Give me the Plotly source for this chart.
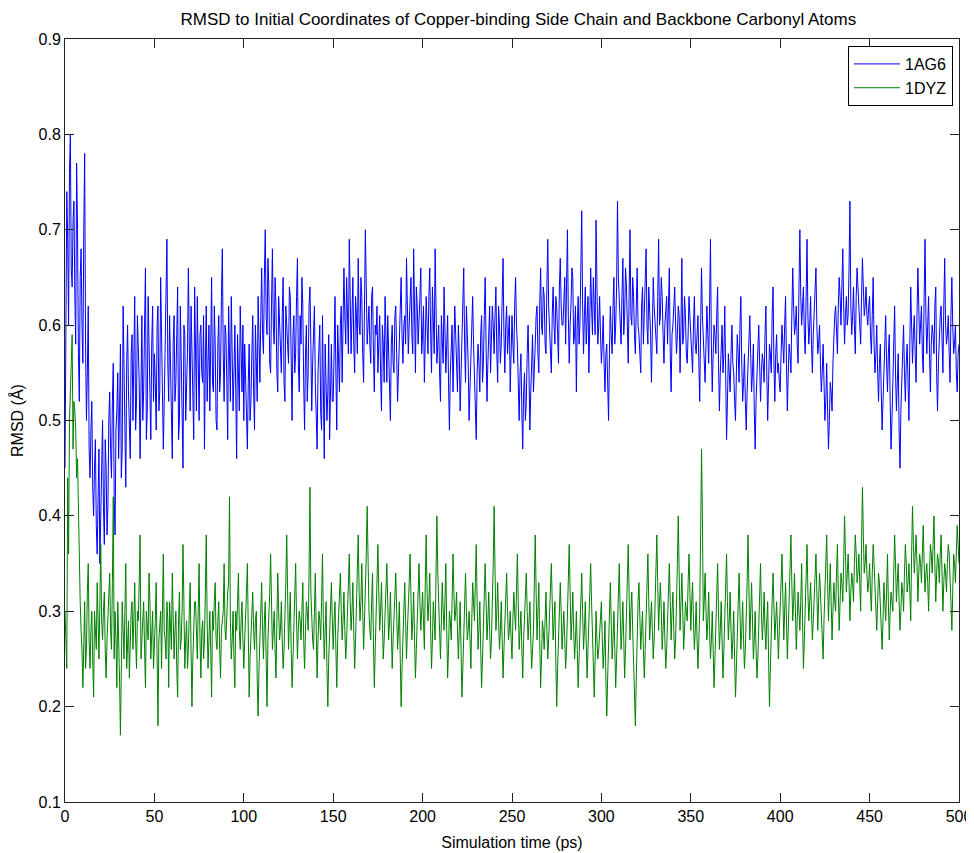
import numpy as np
import plotly.graph_objects as go

# RMSD (Angstrom).
# "main" blocks are at whole picoseconds (t = 0, 1, 2, ...),
# "half" blocks are at the half picoseconds in between (t = 0.5, 1.5, ...).
ag6_000 = [0.45,0.74,0.60,0.80,0.64,0.73,0.58,0.70,0.52,0.68,
           0.56,0.78,0.50,0.62,0.44,0.52,0.40,0.48,0.36,0.47,
           0.39,0.50,0.37,0.45,0.41,0.53,0.44,0.56,0.38,0.51,
           0.46,0.58,0.47,0.55,0.43,0.60,0.49,0.57,0.50,0.63,
           0.52,0.58,0.46,0.61,0.53,0.66,0.51,0.59,0.48,0.62]
ag6_050 = [0.57,0.49,0.62,0.53,0.60,0.47,0.58,0.69,0.52,0.56,
           0.46,0.61,0.54,0.64,0.50,0.57,0.45,0.59,0.53,0.66,
           0.51,0.58,0.48,0.55,0.63,0.50,0.60,0.54,0.47,0.62,
           0.56,0.51,0.65,0.53,0.58,0.49,0.61,0.55,0.68,0.52,
           0.59,0.48,0.57,0.63,0.51,0.60,0.46,0.56,0.62,0.53]
ag6_100 = [0.50,0.55,0.47,0.58,0.52,0.61,0.49,0.56,0.63,0.54,
           0.66,0.57,0.70,0.59,0.64,0.55,0.68,0.58,0.62,0.53,
           0.60,0.55,0.65,0.52,0.59,0.56,0.63,0.50,0.61,0.57,
           0.67,0.53,0.58,0.62,0.49,0.60,0.55,0.64,0.51,0.59,
           0.54,0.47,0.57,0.51,0.61,0.46,0.55,0.53,0.48,0.58]
ag6_150 = [0.52,0.63,0.49,0.57,0.60,0.54,0.66,0.58,0.62,0.69,
           0.57,0.65,0.55,0.61,0.67,0.59,0.63,0.54,0.70,0.58,
           0.62,0.56,0.64,0.53,0.59,0.55,0.61,0.51,0.58,0.63,
           0.54,0.57,0.50,0.60,0.55,0.62,0.52,0.58,0.65,0.56,
           0.61,0.67,0.57,0.63,0.59,0.68,0.55,0.62,0.60,0.66]
ag6_200 = [0.59,0.54,0.63,0.57,0.66,0.55,0.61,0.68,0.56,0.60,
           0.52,0.58,0.64,0.55,0.61,0.49,0.57,0.53,0.62,0.56,
           0.60,0.51,0.58,0.66,0.54,0.59,0.50,0.57,0.63,0.55,
           0.48,0.58,0.53,0.61,0.56,0.65,0.52,0.59,0.55,0.62,
           0.57,0.64,0.54,0.60,0.58,0.67,0.55,0.62,0.59,0.53]
ag6_250 = [0.61,0.56,0.65,0.58,0.50,0.57,0.47,0.55,0.52,0.60,
           0.49,0.56,0.53,0.58,0.62,0.55,0.66,0.59,0.63,0.57,
           0.69,0.60,0.55,0.64,0.58,0.62,0.56,0.67,0.60,0.63,
           0.58,0.70,0.56,0.62,0.65,0.59,0.53,0.63,0.60,0.72,
           0.57,0.64,0.61,0.55,0.66,0.59,0.62,0.71,0.58,0.63]
ag6_300 = [0.56,0.61,0.53,0.58,0.50,0.62,0.57,0.65,0.60,0.73,
           0.62,0.58,0.67,0.61,0.64,0.56,0.70,0.60,0.63,0.57,
           0.66,0.59,0.55,0.64,0.61,0.68,0.58,0.62,0.54,0.65,
           0.60,0.57,0.69,0.61,0.63,0.56,0.62,0.58,0.66,0.53,
           0.60,0.64,0.57,0.62,0.55,0.67,0.59,0.61,0.56,0.63]
ag6_350 = [0.59,0.55,0.63,0.57,0.61,0.52,0.66,0.58,0.54,0.62,
           0.56,0.69,0.53,0.60,0.57,0.64,0.51,0.58,0.55,0.62,
           0.48,0.57,0.53,0.60,0.55,0.50,0.59,0.54,0.63,0.52,
           0.57,0.49,0.56,0.61,0.53,0.58,0.47,0.55,0.60,0.52,
           0.57,0.54,0.62,0.50,0.58,0.55,0.64,0.52,0.59,0.56]
ag6_400 = [0.53,0.60,0.56,0.63,0.51,0.58,0.55,0.66,0.59,0.62,
           0.56,0.70,0.60,0.64,0.57,0.69,0.58,0.63,0.55,0.61,
           0.66,0.57,0.60,0.53,0.58,0.50,0.56,0.47,0.54,0.51,
           0.59,0.62,0.57,0.65,0.60,0.68,0.58,0.63,0.61,0.73,
           0.59,0.64,0.57,0.66,0.62,0.58,0.67,0.61,0.64,0.60]
ag6_450 = [0.63,0.57,0.65,0.55,0.60,0.52,0.58,0.49,0.56,0.61,
           0.53,0.59,0.47,0.55,0.62,0.51,0.57,0.45,0.54,0.60,
           0.52,0.58,0.50,0.64,0.56,0.61,0.54,0.66,0.58,0.62,
           0.55,0.69,0.57,0.63,0.53,0.60,0.57,0.64,0.51,0.59,
           0.62,0.55,0.67,0.58,0.61,0.54,0.65,0.57,0.60,0.53,
           0.58]

ag6_half_000 = [0.62,0.69,0.76,0.66,0.71,0.63,0.77,0.57,0.65,0.60,
                0.70,0.58,0.55,0.47,0.49,0.43,0.45,0.39,0.42,0.35,
                0.44,0.41,0.48,0.38,0.50,0.47,0.52,0.42,0.49,0.55,
                0.51,0.44,0.62,0.48,0.56,0.53,0.46,0.59,0.55,0.49,
                0.61,0.54,0.57,0.50,0.60,0.48,0.63,0.55,0.58,0.52]
ag6_half_050 = [0.54,0.60,0.51,0.65,0.55,0.52,0.63,0.56,0.61,0.50,
                0.58,0.52,0.59,0.48,0.62,0.54,0.60,0.50,0.57,0.55,
                0.62,0.53,0.64,0.51,0.57,0.59,0.55,0.61,0.56,0.52,
                0.60,0.57,0.54,0.62,0.50,0.58,0.53,0.63,0.57,0.60,
                0.54,0.62,0.52,0.58,0.55,0.53,0.59,0.51,0.57,0.60]
ag6_half_100 = [0.58,0.52,0.54,0.50,0.57,0.53,0.60,0.52,0.58,0.61,
                0.59,0.65,0.61,0.67,0.56,0.62,0.60,0.65,0.55,0.63,
                0.57,0.61,0.54,0.62,0.58,0.64,0.53,0.59,0.55,0.63,
                0.56,0.61,0.65,0.54,0.57,0.52,0.62,0.58,0.56,0.62,
                0.50,0.55,0.60,0.49,0.53,0.58,0.50,0.59,0.55,0.52]
ag6_half_150 = [0.57,0.55,0.60,0.53,0.62,0.59,0.61,0.65,0.57,0.63,
                0.61,0.58,0.63,0.57,0.60,0.65,0.57,0.62,0.64,0.60,
                0.58,0.63,0.57,0.60,0.62,0.58,0.55,0.60,0.54,0.59,
                0.61,0.53,0.58,0.56,0.61,0.57,0.55,0.62,0.59,0.60,
                0.58,0.62,0.60,0.65,0.57,0.61,0.64,0.58,0.63,0.57]
ag6_half_200 = [0.62,0.58,0.60,0.63,0.59,0.64,0.57,0.62,0.58,0.55,
                0.61,0.56,0.59,0.58,0.54,0.55,0.60,0.58,0.59,0.53,
                0.57,0.55,0.61,0.58,0.62,0.56,0.54,0.60,0.58,0.51,
                0.55,0.56,0.59,0.54,0.61,0.58,0.56,0.62,0.58,0.60,
                0.61,0.57,0.62,0.56,0.63,0.59,0.60,0.57,0.61,0.58]
ag6_half_250 = [0.58,0.62,0.60,0.54,0.55,0.51,0.53,0.50,0.57,0.55,
                0.53,0.59,0.55,0.61,0.57,0.62,0.60,0.64,0.58,0.64,
                0.62,0.58,0.61,0.60,0.63,0.59,0.64,0.62,0.60,0.65,
                0.63,0.61,0.60,0.66,0.58,0.62,0.60,0.58,0.66,0.62,
                0.61,0.58,0.63,0.60,0.62,0.65,0.59,0.62,0.60,0.59]
ag6_half_300 = [0.58,0.56,0.57,0.54,0.57,0.59,0.62,0.58,0.64,0.65,
                0.60,0.63,0.59,0.66,0.60,0.63,0.61,0.65,0.59,0.62,
                0.60,0.57,0.62,0.58,0.63,0.60,0.64,0.59,0.61,0.62,
                0.58,0.63,0.60,0.65,0.59,0.60,0.63,0.61,0.57,0.59,
                0.62,0.60,0.59,0.61,0.60,0.58,0.63,0.57,0.59,0.61]
ag6_half_350 = [0.57,0.60,0.58,0.59,0.56,0.60,0.61,0.55,0.58,0.59,
                0.62,0.58,0.57,0.59,0.61,0.56,0.55,0.60,0.57,0.54,
                0.52,0.55,0.57,0.56,0.52,0.55,0.57,0.60,0.56,0.54,
                0.52,0.53,0.59,0.57,0.55,0.51,0.52,0.58,0.56,0.55,
                0.56,0.59,0.55,0.54,0.57,0.61,0.56,0.57,0.55,0.54]
ag6_half_400 = [0.57,0.58,0.60,0.56,0.55,0.57,0.61,0.62,0.60,0.58,
                0.64,0.63,0.62,0.59,0.63,0.61,0.60,0.58,0.59,0.64,
                0.60,0.58,0.56,0.55,0.54,0.52,0.51,0.50,0.53,0.56,
                0.61,0.59,0.62,0.63,0.64,0.62,0.61,0.60,0.66,0.62,
                0.61,0.60,0.63,0.64,0.59,0.63,0.64,0.62,0.61,0.62]
ag6_half_450 = [0.59,0.61,0.58,0.57,0.55,0.56,0.53,0.52,0.59,0.56,
                0.57,0.52,0.50,0.58,0.55,0.54,0.49,0.51,0.58,0.55,
                0.56,0.54,0.58,0.60,0.59,0.57,0.61,0.62,0.60,0.57,
                0.63,0.61,0.60,0.57,0.58,0.59,0.62,0.55,0.56,0.61,
                0.59,0.62,0.60,0.59,0.57,0.61,0.60,0.58,0.55,0.57]

dyz_000 = [0.30,0.24,0.36,0.55,0.59,0.52,0.49,0.46,0.38,0.28,
           0.22,0.31,0.26,0.35,0.24,0.30,0.21,0.28,0.33,0.25,
           0.37,0.27,0.32,0.23,0.29,0.34,0.26,0.42,0.30,0.22,
           0.28,0.17,0.31,0.25,0.35,0.27,0.23,0.30,0.26,0.33,
           0.24,0.29,0.38,0.27,0.31,0.22,0.28,0.34,0.25,0.30]
dyz_050 = [0.26,0.33,0.18,0.29,0.24,0.36,0.27,0.31,0.22,0.28,
           0.34,0.25,0.30,0.21,0.32,0.27,0.37,0.24,0.29,0.26,
           0.33,0.20,0.28,0.31,0.25,0.35,0.23,0.29,0.27,0.38,
           0.24,0.30,0.21,0.28,0.33,0.26,0.31,0.23,0.29,0.35,
           0.27,0.32,0.42,0.25,0.30,0.22,0.28,0.34,0.26,0.31]
dyz_100 = [0.24,0.29,0.35,0.21,0.28,0.32,0.26,0.30,0.19,0.27,
           0.33,0.25,0.31,0.20,0.29,0.36,0.26,0.30,0.23,0.34,
           0.27,0.31,0.24,0.29,0.38,0.26,0.32,0.22,0.28,0.35,
           0.25,0.30,0.27,0.33,0.24,0.31,0.28,0.43,0.29,0.26,
           0.34,0.23,0.30,0.27,0.36,0.25,0.31,0.20,0.28,0.33]
dyz_150 = [0.26,0.31,0.22,0.29,0.34,0.27,0.32,0.25,0.30,0.36,
           0.28,0.33,0.24,0.31,0.38,0.29,0.35,0.26,0.32,0.41,
           0.30,0.27,0.34,0.22,0.31,0.37,0.28,0.33,0.25,0.30,
           0.35,0.27,0.32,0.24,0.29,0.34,0.26,0.31,0.20,0.28,
           0.33,0.25,0.30,0.36,0.27,0.32,0.23,0.29,0.35,0.28]
dyz_200 = [0.32,0.26,0.38,0.29,0.34,0.24,0.31,0.27,0.40,0.30,
           0.25,0.33,0.28,0.35,0.23,0.30,0.27,0.36,0.29,0.32,
           0.25,0.31,0.21,0.28,0.34,0.27,0.30,0.24,0.33,0.29,
           0.37,0.26,0.31,0.22,0.28,0.35,0.27,0.32,0.25,0.30,
           0.41,0.28,0.33,0.26,0.31,0.23,0.29,0.34,0.27,0.30]
dyz_250 = [0.25,0.32,0.28,0.36,0.26,0.30,0.23,0.29,0.34,0.27,
           0.31,0.24,0.28,0.38,0.27,0.33,0.22,0.29,0.26,0.32,
           0.25,0.30,0.35,0.27,0.31,0.20,0.28,0.33,0.26,0.30,
           0.24,0.29,0.37,0.27,0.32,0.25,0.30,0.22,0.28,0.34,
           0.26,0.31,0.23,0.29,0.35,0.27,0.21,0.30,0.25,0.28]
dyz_300 = [0.31,0.24,0.29,0.19,0.27,0.33,0.25,0.30,0.22,0.28,
           0.35,0.26,0.31,0.23,0.29,0.37,0.27,0.32,0.24,0.18,
           0.28,0.33,0.26,0.30,0.23,0.29,0.36,0.27,0.31,0.25,
           0.30,0.38,0.28,0.33,0.26,0.31,0.24,0.29,0.35,0.27,
           0.32,0.25,0.30,0.40,0.28,0.34,0.26,0.31,0.29,0.36]
dyz_350 = [0.28,0.33,0.26,0.31,0.24,0.30,0.47,0.29,0.34,0.27,
           0.32,0.25,0.30,0.22,0.28,0.35,0.26,0.31,0.23,0.29,
           0.36,0.27,0.32,0.25,0.30,0.21,0.28,0.34,0.26,0.31,
           0.24,0.29,0.38,0.27,0.33,0.25,0.30,0.23,0.28,0.35,
           0.27,0.32,0.26,0.31,0.20,0.29,0.34,0.27,0.31,0.25]
dyz_400 = [0.30,0.36,0.27,0.33,0.25,0.31,0.38,0.29,0.34,0.26,
           0.32,0.28,0.35,0.24,0.30,0.37,0.29,0.33,0.27,0.31,
           0.36,0.28,0.34,0.30,0.25,0.32,0.38,0.29,0.35,0.27,
           0.33,0.30,0.37,0.28,0.34,0.31,0.40,0.32,0.36,0.29,
           0.34,0.31,0.38,0.33,0.36,0.30,0.43,0.34,0.37,0.32]
dyz_450 = [0.35,0.30,0.37,0.33,0.28,0.34,0.31,0.26,0.33,0.29,
           0.36,0.27,0.32,0.30,0.38,0.31,0.35,0.28,0.33,0.30,
           0.37,0.32,0.35,0.29,0.41,0.34,0.38,0.31,0.36,0.33,
           0.39,0.32,0.35,0.30,0.37,0.34,0.40,0.31,0.36,0.33,
           0.38,0.30,0.35,0.32,0.37,0.34,0.28,0.36,0.33,0.39,
           0.35]

dyz_half_000 = [0.27,0.44,0.50,0.56,0.47,0.51,0.44,0.40,0.31,0.26,
                0.29,0.24,0.32,0.27,0.28,0.25,0.30,0.26,0.29,0.31,
                0.29,0.30,0.26,0.27,0.31,0.28,0.33,0.25,0.27,0.31,
                0.23,0.26,0.28,0.30,0.24,0.29,0.27,0.31,0.29,0.27,
                0.30,0.33,0.25,0.29,0.26,0.30,0.27,0.31,0.28,0.24]
dyz_half_050 = [0.29,0.25,0.27,0.30,0.31,0.28,0.25,0.29,0.31,0.26,
                0.30,0.28,0.24,0.29,0.26,0.30,0.31,0.27,0.24,0.30,
                0.26,0.25,0.31,0.28,0.30,0.27,0.28,0.25,0.32,0.29,
                0.27,0.26,0.30,0.31,0.27,0.29,0.26,0.28,0.30,0.28,
                0.30,0.33,0.29,0.27,0.25,0.30,0.31,0.28,0.29,0.27]
dyz_half_100 = [0.27,0.32,0.26,0.25,0.31,0.28,0.29,0.23,0.24,0.30,
                0.28,0.29,0.25,0.27,0.32,0.30,0.28,0.26,0.29,0.30,
                0.28,0.27,0.26,0.33,0.31,0.29,0.26,0.25,0.31,0.29,
                0.28,0.29,0.30,0.27,0.28,0.30,0.34,0.32,0.27,0.30,
                0.28,0.27,0.29,0.31,0.29,0.28,0.24,0.25,0.31,0.29]
dyz_half_150 = [0.29,0.26,0.27,0.32,0.30,0.29,0.28,0.27,0.33,0.31,
                0.30,0.28,0.27,0.34,0.32,0.31,0.30,0.29,0.36,0.33,
                0.28,0.31,0.27,0.26,0.34,0.32,0.30,0.29,0.27,0.33,
                0.31,0.29,0.28,0.27,0.32,0.30,0.28,0.25,0.24,0.31,
                0.29,0.28,0.33,0.31,0.29,0.27,0.26,0.32,0.31,0.30]
dyz_half_200 = [0.29,0.33,0.32,0.31,0.28,0.27,0.29,0.34,0.34,0.27,
                0.29,0.30,0.31,0.28,0.26,0.29,0.31,0.32,0.30,0.28,
                0.28,0.26,0.24,0.31,0.30,0.28,0.27,0.29,0.31,0.33,
                0.31,0.28,0.26,0.25,0.32,0.31,0.29,0.28,0.27,0.35,
                0.33,0.30,0.29,0.28,0.27,0.26,0.31,0.30,0.28,0.27]
dyz_half_250 = [0.29,0.30,0.32,0.31,0.28,0.26,0.27,0.31,0.30,0.29,
                0.27,0.26,0.33,0.32,0.30,0.27,0.25,0.28,0.29,0.28,
                0.27,0.32,0.31,0.29,0.25,0.24,0.31,0.30,0.28,0.27,
                0.26,0.33,0.32,0.29,0.28,0.27,0.26,0.25,0.31,0.30,
                0.28,0.27,0.26,0.32,0.31,0.24,0.25,0.27,0.26,0.30]
dyz_half_300 = [0.27,0.26,0.23,0.23,0.30,0.29,0.27,0.26,0.25,0.31,
                0.30,0.28,0.27,0.26,0.33,0.32,0.30,0.28,0.21,0.23,
                0.31,0.30,0.28,0.26,0.26,0.32,0.31,0.29,0.28,0.27,
                0.34,0.33,0.31,0.30,0.28,0.27,0.26,0.32,0.31,0.30,
                0.28,0.27,0.35,0.34,0.31,0.30,0.28,0.30,0.33,0.32]
dyz_half_350 = [0.31,0.29,0.28,0.27,0.27,0.38,0.40,0.31,0.30,0.29,
                0.28,0.27,0.26,0.25,0.31,0.30,0.28,0.27,0.26,0.32,
                0.31,0.29,0.28,0.27,0.25,0.24,0.31,0.30,0.28,0.27,
                0.26,0.33,0.32,0.30,0.29,0.27,0.26,0.25,0.31,0.30,
                0.29,0.28,0.29,0.25,0.24,0.31,0.30,0.29,0.28,0.28]
dyz_half_400 = [0.33,0.31,0.30,0.29,0.28,0.34,0.33,0.31,0.30,0.29,
                0.30,0.31,0.29,0.27,0.33,0.32,0.31,0.30,0.29,0.33,
                0.32,0.31,0.32,0.28,0.29,0.35,0.33,0.32,0.31,0.30,
                0.31,0.34,0.32,0.31,0.33,0.35,0.36,0.34,0.33,0.32,
                0.33,0.35,0.36,0.34,0.33,0.37,0.38,0.35,0.34,0.33]
dyz_half_450 = [0.32,0.34,0.35,0.30,0.31,0.33,0.28,0.29,0.31,0.32,
                0.31,0.30,0.31,0.34,0.35,0.33,0.31,0.30,0.32,0.34,
                0.35,0.33,0.32,0.36,0.37,0.36,0.35,0.34,0.35,0.36,
                0.35,0.34,0.33,0.34,0.36,0.37,0.35,0.34,0.35,0.36,
                0.34,0.33,0.34,0.35,0.36,0.31,0.32,0.35,0.36,0.37]

series_names = ["1AG6", "1DYZ"]
x_ticks = [0, 50, 100, 150, 200, 250, 300, 350, 400, 450, 500]
y_ticks = [0.1, 0.2, 0.3, 0.4, 0.5, 0.6, 0.7, 0.8, 0.9]

ag6_main = (ag6_000 + ag6_050 + ag6_100 + ag6_150 + ag6_200 +
            ag6_250 + ag6_300 + ag6_350 + ag6_400 + ag6_450)
ag6_half = (ag6_half_000 + ag6_half_050 + ag6_half_100 + ag6_half_150 + ag6_half_200 +
            ag6_half_250 + ag6_half_300 + ag6_half_350 + ag6_half_400 + ag6_half_450)
dyz_main = (dyz_000 + dyz_050 + dyz_100 + dyz_150 + dyz_200 +
            dyz_250 + dyz_300 + dyz_350 + dyz_400 + dyz_450)
dyz_half = (dyz_half_000 + dyz_half_050 + dyz_half_100 + dyz_half_150 + dyz_half_200 +
            dyz_half_250 + dyz_half_300 + dyz_half_350 + dyz_half_400 + dyz_half_450)


def build(main, half):
    t = list(np.arange(len(main), dtype=float)) + list(np.arange(len(half), dtype=float) + 0.5)
    v = list(main) + list(half)
    order = np.argsort(t, kind="stable")
    return np.asarray(t)[order], np.asarray(v)[order]


t_ag6, v_ag6 = build(ag6_main, ag6_half)
t_dyz, v_dyz = build(dyz_main, dyz_half)

FONT = "Liberation Sans, Arial, Helvetica, sans-serif"

fig = go.Figure()
fig.add_trace(go.Scatter(x=t_ag6, y=v_ag6, mode="lines", name=series_names[0],
                         line=dict(color="#0000ff", width=1)))
fig.add_trace(go.Scatter(x=t_dyz, y=v_dyz, mode="lines", name=series_names[1],
                         line=dict(color="#008000", width=1)))

axis_common = dict(showline=True, mirror="ticks", linecolor="#222222", linewidth=1,
                   ticks="inside", ticklen=9, tickcolor="#222222", tickwidth=1,
                   showgrid=False, zeroline=False, automargin=False,
                   tickfont=dict(family=FONT, size=16, color="black"))

# the page draws the figure about 7 px in from its top-left corner;
# margins are set so the plotting box lands where the reference has it
fig.update_layout(
    width=974, height=853,
    paper_bgcolor="white", plot_bgcolor="white",
    margin=dict(l=57, r=23, t=31, b=59),
    title=dict(text="RMSD to Initial Coordinates of Copper-binding Side Chain and Backbone Carbonyl Atoms",
               x=0.524, xanchor="center", y=0.987, yanchor="middle",
               font=dict(family=FONT, size=17, color="black")),
    xaxis=dict(range=[0, 500], tickvals=x_ticks,
               title=dict(text="Simulation time (ps)", standoff=12,
                          font=dict(family=FONT, size=16, color="black")),
               **axis_common),
    yaxis=dict(range=[0.1, 0.9], tickvals=y_ticks, tickformat=".1f",
               title=dict(text="RMSD (Å)", standoff=10,
                          font=dict(family=FONT, size=16, color="black")),
               **axis_common),
    legend=dict(x=0.9933, y=0.9908, xanchor="right", yanchor="top",
                bgcolor="white", bordercolor="black", borderwidth=1,
                font=dict(family=FONT, size=16, color="black"),
                tracegroupgap=0, itemwidth=46, entrywidth=108, entrywidthmode="pixels"),
    showlegend=True,
)

fig.write_html("out.html")
